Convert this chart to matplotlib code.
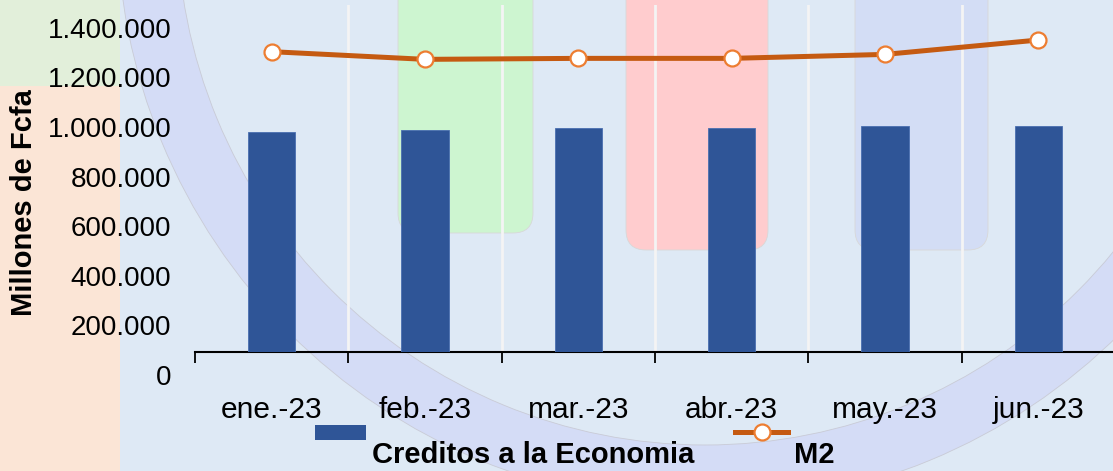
import matplotlib.pyplot as plt
import numpy as np
from matplotlib.patches import Rectangle, FancyBboxPatch, Annulus
from matplotlib.lines import Line2D
from matplotlib.transforms import ScaledTranslation

plt.rcParams['font.family'] = ['Liberation Sans', 'DejaVu Sans']

months = ['ene.-23', 'feb.-23', 'mar.-23', 'abr.-23', 'may.-23', 'jun.-23']
creditos = [886000, 895000, 904000, 903000, 911000, 910000]
m2 = [1211000, 1180000, 1184000, 1184000, 1200000, 1258000]
y_ticks = [0, 200000, 400000, 600000, 800000, 1000000, 1200000, 1400000]

BAR_COLOR = '#2F5597'
LINE_COLOR = '#C55A11'
MARKER_EDGE = '#ED7D31'
BG_COLOR = '#DEE9F5'

W, H = 1113, 471
fig = plt.figure(figsize=(W / 100, H / 100), dpi=100)
fig.patch.set_facecolor(BG_COLOR)

# decorative background drawn in pixel coordinates
bg = fig.add_axes([0, 0, 1, 1], zorder=-1)
bg.set_xlim(0, W)
bg.set_ylim(H, 0)
bg.axis('off')
bg.add_patch(Rectangle((0, 0), 120, 86, color='#E2EFDA', lw=0))
bg.add_patch(Rectangle((0, 86), 120, H - 86, color='#FBE5D6', lw=0))
bg.add_patch(Annulus((705, -83), 588, 60, facecolor='#D4DCF6',
                     edgecolor='#C9CBD6', lw=0.6))
for x0, w, h, col in [(398, 135, 283, '#CDF5D0'),
                      (626, 142, 300, '#FFCCCE'),
                      (855, 133, 300, '#D3DDF5')]:
    bg.add_patch(FancyBboxPatch((x0, -50), w, h,
                                boxstyle='round,pad=0,rounding_size=20',
                                facecolor=col, edgecolor='#D8D8D8', lw=0.6))

# main chart
ax = fig.add_axes([195 / W, 119 / H, 920 / W, 347.2 / H])
ax.set_facecolor('none')
x = np.arange(len(months))
ax.bar(x, creditos, width=0.31, color=BAR_COLOR, edgecolor='#4A6FB0',
       lw=0.6, zorder=3)
ax.plot(x, m2, color=LINE_COLOR, lw=3.6, marker='o', markersize=11.5,
        markerfacecolor='white', markeredgecolor=MARKER_EDGE,
        markeredgewidth=1.6, zorder=4)

ax.set_xlim(-0.5, len(months) - 0.5)
ax.set_ylim(0, 1400000)

ax.set_xticks(np.arange(-0.5, len(months)))
ax.set_xticklabels([])
ax.set_xticks(x, minor=True)
ax.set_xticklabels(months, minor=True)
ax.tick_params(axis='x', which='major', length=8, width=1.3, direction='out',
               color='black')
ax.tick_params(axis='x', which='minor', length=0, pad=32, labelsize=21.5)
ax.grid(axis='x', which='major', color='#F4F4F4', lw=2)
ax.xaxis.get_gridlines()[0].set_visible(False)
ax.set_axisbelow(True)

ax.set_yticks(y_ticks)
ax.set_yticklabels(['{:,}'.format(v).replace(',', '.') for v in y_ticks])
ax.tick_params(axis='y', length=0, pad=17, labelsize=20)
shift = ScaledTranslation(0, -23 / 100, fig.dpi_scale_trans)
for lbl in ax.get_yticklabels():
    lbl.set_transform(lbl.get_transform() + shift)

for side in ['top', 'right', 'left']:
    ax.spines[side].set_visible(False)
ax.spines['bottom'].set_linewidth(1.5)

fig.text(24 / W, 1 - 203 / H, 'Millones de Fcfa', rotation=90, fontsize=21,
         fontweight='bold', ha='center', va='center')

# legend
bg.add_patch(Rectangle((315, 425), 51, 15, color=BAR_COLOR, lw=0))
bg.add_line(Line2D([735, 788], [432, 432], color=LINE_COLOR, lw=3.6))
bg.add_line(Line2D([761.5], [432], marker='o', markersize=11.5,
                   markerfacecolor='white', markeredgecolor=MARKER_EDGE,
                   markeredgewidth=1.6))
bg.text(533, 455, 'Creditos a la Economia', fontsize=21, fontweight='bold',
        ha='center', va='center')
bg.text(814, 455, 'M2', fontsize=21, fontweight='bold',
        ha='center', va='center')

fig.savefig('out.png', dpi=100, facecolor=fig.get_facecolor())
